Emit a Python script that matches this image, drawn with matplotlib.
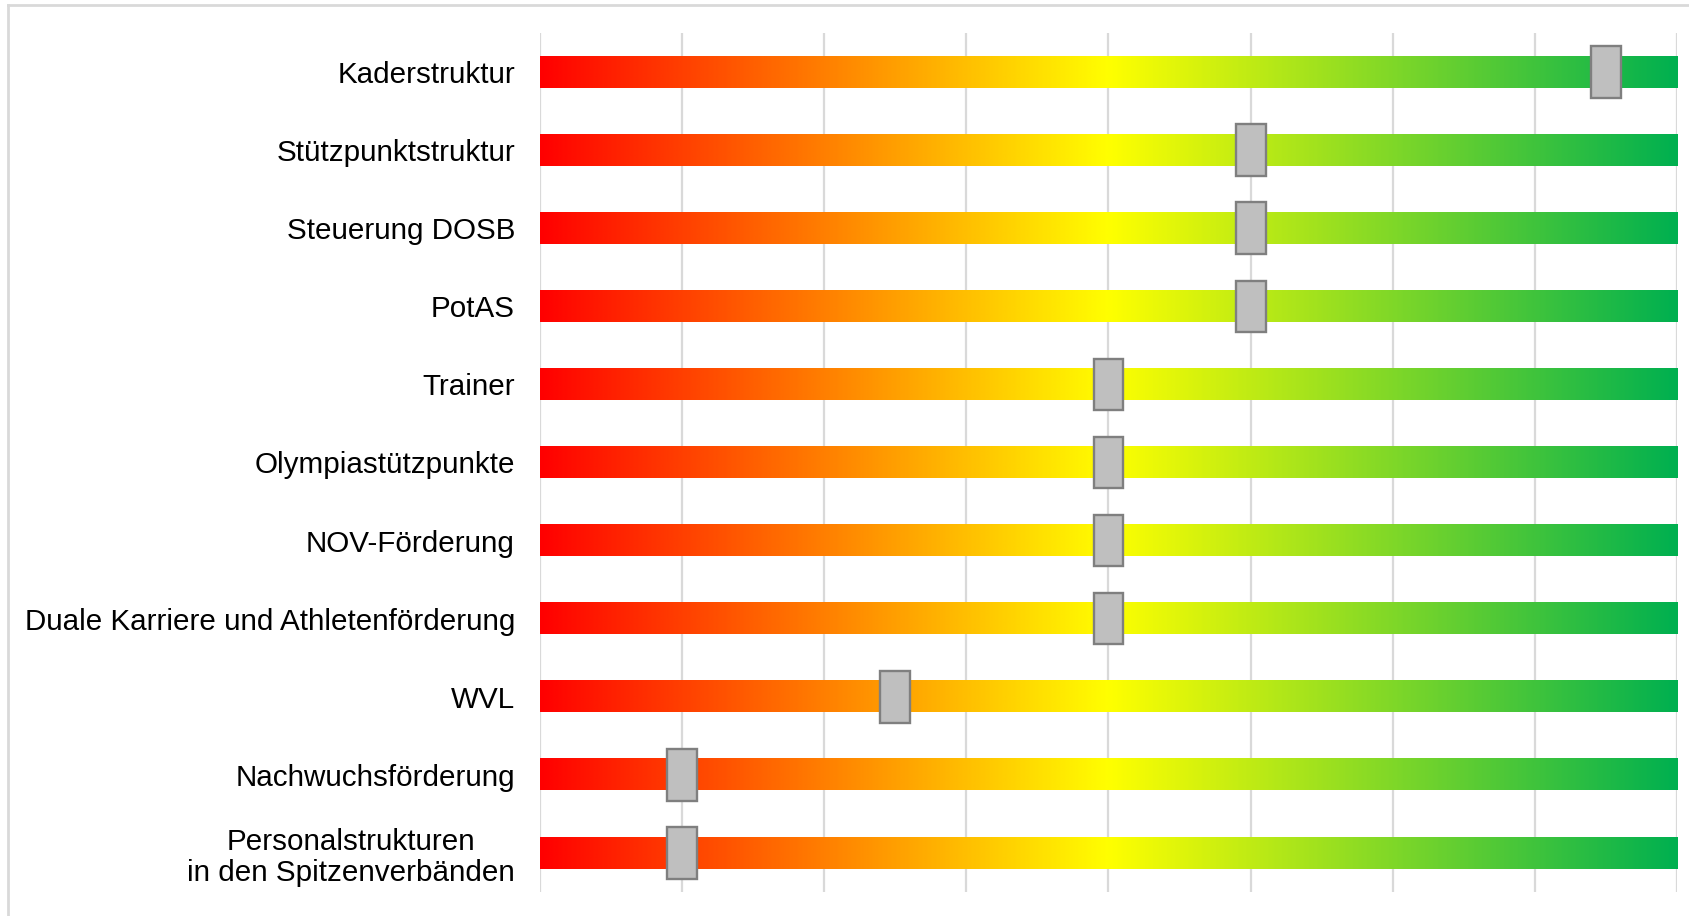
import numpy as np
import matplotlib.pyplot as plt
from matplotlib.colors import LinearSegmentedColormap
from matplotlib.patches import Rectangle
from matplotlib.lines import Line2D

# Kategorien von oben nach unten
kategorien = [
    "Kaderstruktur",
    "Stützpunktstruktur",
    "Steuerung DOSB",
    "PotAS",
    "Trainer",
    "Olympiastützpunkte",
    "NOV-Förderung",
    "Duale Karriere und Athletenförderung",
    "WVL",
    "Nachwuchsförderung",
    "Personalstrukturen\nin den Spitzenverbänden",
]
# Position des grauen Schiebers auf der Skala 0..8
werte = [7.5, 5, 5, 5, 4, 4, 4, 4, 2.5, 1, 1]
skala_max = 8

plt.rcParams['font.family'] = ['Liberation Sans', 'DejaVu Sans']

# Farbverlauf rot -> gelb -> grün
cmap = LinearSegmentedColormap.from_list(
    "ampel", [(0.0, "#FF0000"), (0.5, "#FFFF00"), (1.0, "#00B050")])
verlauf = np.linspace(0, 1, 512).reshape(1, -1)

fig = plt.figure(figsize=(16.89, 9.16), dpi=100)
ax = fig.add_axes([0.3197, 0.0262, 0.6732, 0.9378])

for i, w in enumerate(werte):
    ax.imshow(verlauf, cmap=cmap, aspect='auto', interpolation='bilinear',
              extent=(0, skala_max, i + 0.2, i - 0.2), zorder=2)
    ax.add_patch(Rectangle((w - 0.105, i - 0.33), 0.21, 0.66,
                           facecolor="#BFBFBF", edgecolor="#7F7F7F",
                           linewidth=1.7, zorder=3))

ax.set_xlim(0, skala_max)
ax.set_ylim(len(kategorien) - 0.5, -0.5)
ax.set_xticks(np.arange(0, skala_max + 1, 1))
ax.xaxis.grid(True, color="#D9D9D9", linewidth=1.6, zorder=0)
ax.set_axisbelow(True)
ax.tick_params(axis='x', length=0, labelbottom=False)
ax.set_yticks(range(len(kategorien)))
ax.set_yticklabels(kategorien, fontsize=21.3)
ax.tick_params(axis='y', length=0, pad=18)
for lbl in ax.get_yticklabels():
    lbl.set_multialignment('center')
    lbl.set_linespacing(1.15)
for s in ax.spines.values():
    s.set_visible(False)

# heller Rahmen (nur oben und links sichtbar)
fig.add_artist(Line2D([0.0047, 1.0], [0.9945, 0.9945], color="#D9D9D9",
                      linewidth=2, transform=fig.transFigure))
fig.add_artist(Line2D([0.0047, 0.0047], [0.0, 0.9945], color="#D9D9D9",
                      linewidth=2, transform=fig.transFigure))

fig.savefig("out.png", dpi=100)
